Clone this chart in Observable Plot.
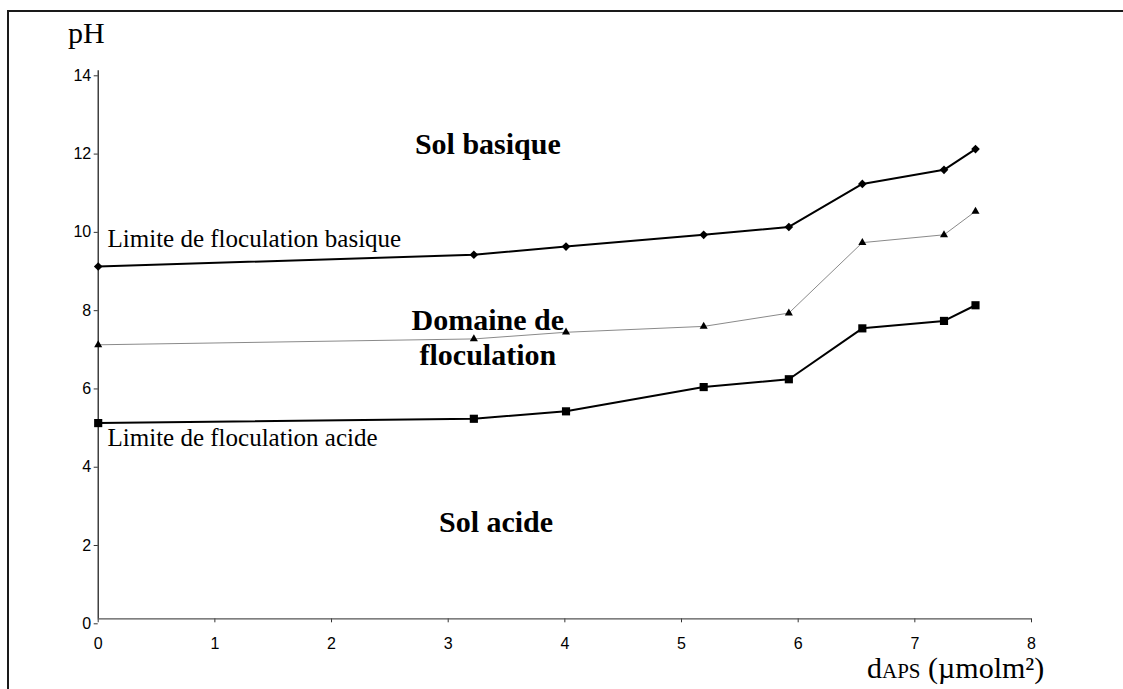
<!DOCTYPE html>
<html>
<head>
<meta charset="utf-8">
<script src="https://cdn.jsdelivr.net/npm/d3@7"></script>
<script src="https://cdn.jsdelivr.net/npm/@observablehq/plot@0.6"></script>
<style>
  html, body { margin: 0; padding: 0; background: #fff; }
  #wrap { position: relative; width: 1123px; height: 689px; overflow: hidden; background: #fff; }
  #frame { position: absolute; left: 7px; top: 10px; right: -10px; bottom: -10px;
           border-top: 2px solid #1a1a1a; border-left: 2px solid #1a1a1a; }
  #chart { position: absolute; left: 0; top: 0; }
  #chart svg { display: block; }
  .axlab { position: absolute; font-family: "Liberation Serif", "Times New Roman", serif; font-size: 30px; line-height: 34px; color: #000; white-space: nowrap; }
  .sub { font-size: 21px; }
</style>
</head>
<body>
<div id="wrap">
  <div id="frame"></div>
  <div id="chart"></div>
  <div class="axlab" style="left:68px; top:16px;">pH</div>
  <div class="axlab" style="left:867px; top:651px;">d<span class="sub">APS</span> (µmolm²)</div>
</div>
<script>
// Data
const dAPS = [0, 3.22, 4.01, 5.19, 5.92, 6.55, 7.25, 7.52];
const pHBasique = [9.0, 9.30, 9.51, 9.81, 10.01, 11.11, 11.47, 12.0];
const pHMilieu  = [7.0, 7.15, 7.32, 7.47, 7.81, 9.61, 9.81, 10.41];
const pHAcide   = [5.0, 5.11, 5.30, 5.92, 6.12, 7.42, 7.61, 8.01];

const xTicks = [0, 1, 2, 3, 4, 5, 6, 7, 8];
const yTicks = [0, 2, 4, 6, 8, 10, 12, 14];

// Region labels (bold) and curve labels (regular), in data units
const regionLabels = ["Sol basique", "Domaine de\nfloculation", "Sol acide"];
const regionX = [3.34, 3.34, 3.41];
const regionY = [12.15, 7.21, 2.50];

const curveLabels = ["Limite de floculation basique", "Limite de floculation acide"];
const curveX = [0.08, 0.08];
const curveY = [9.70, 4.63];

const mk = (ys) => dAPS.map((x, i) => ({x, y: ys[i]}));
const basique = mk(pHBasique);
const milieu = mk(pHMilieu);
const acide = mk(pHAcide);
const regions = regionLabels.map((t, i) => ({t, x: regionX[i], y: regionY[i]}));
const curves = curveLabels.map((t, i) => ({t, x: curveX[i], y: curveY[i]}));

const serif = "Liberation Serif, Times New Roman, serif";

const chart = Plot.plot({
  width: 1123,
  height: 689,
  marginLeft: 97.7,
  marginRight: 92,
  marginTop: 70.3,
  marginBottom: 70.7,
  style: { fontFamily: "Liberation Sans, Arial, sans-serif", fontSize: "16px", background: "transparent", color: "#000" },
  x: { domain: [0, 8] },
  y: { domain: [0, 14] },
  marks: [
    Plot.axisX({ ticks: xTicks, tickSize: 4, tickPadding: 15, label: null, stroke: "#333", tickFormat: d3.format("d") }),
    Plot.axisY({ ticks: yTicks, tickSize: 4, tickPadding: 3, dy: 5, label: null, stroke: "#333", tickFormat: d3.format("d") }),
    Plot.ruleY([0], { stroke: "#555", strokeWidth: 1.2 }),
    Plot.ruleX([0], { stroke: "#111", strokeWidth: 1.2 }),
    Plot.line(milieu, { x: "x", y: "y", stroke: "#8a8a8a", strokeWidth: 1 }),
    Plot.line(basique, { x: "x", y: "y", stroke: "#000", strokeWidth: 2 }),
    Plot.line(acide, { x: "x", y: "y", stroke: "#000", strokeWidth: 2 }),
    Plot.dot(basique, { x: "x", y: "y", symbol: "diamond2", r: 3.9, fill: "#000", stroke: "none" }),
    Plot.dot(milieu, { x: "x", y: "y", symbol: "triangle", r: 3.0, fill: "#000", stroke: "none" }),
    Plot.dot(acide, { x: "x", y: "y", symbol: "square", r: 4.6, fill: "#000", stroke: "none" }),
    Plot.text(regions, { x: "x", y: "y", text: "t", fontFamily: serif, fontWeight: "bold", fontSize: 30, lineHeight: 1.167, fill: "#000", textAnchor: "middle" }),
    Plot.text(curves, { x: "x", y: "y", text: "t", fontFamily: serif, fontSize: 25, fill: "#000", textAnchor: "start" })
  ]
});
document.getElementById("chart").appendChild(chart);
</script>
</body>
</html>
